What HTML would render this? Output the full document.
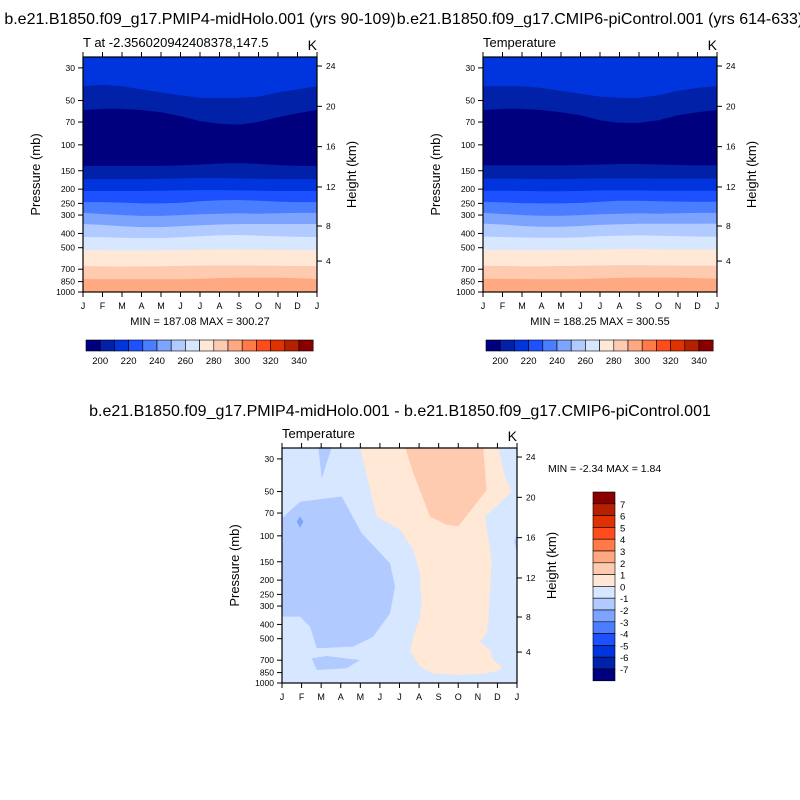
<!DOCTYPE html>
<html><head><meta charset="utf-8">
<style>
body{margin:0;background:#fff;}
svg{display:block;font-family:"Liberation Sans",sans-serif;}
</style></head>
<body>
<svg id="fig" width="800" height="800" viewBox="0 0 800 800" xmlns="http://www.w3.org/2000/svg">
<rect width="800" height="800" fill="#fff"/>
<text x="200" y="24" font-size="16" text-anchor="middle">b.e21.B1850.f09_g17.PMIP4-midHolo.001 (yrs 90-109)</text>
<text x="600" y="24" font-size="16" text-anchor="middle">b.e21.B1850.f09_g17.CMIP6-piControl.001 (yrs 614-633)</text>
<text x="400" y="416" font-size="16" text-anchor="middle">b.e21.B1850.f09_g17.PMIP4-midHolo.001 - b.e21.B1850.f09_g17.CMIP6-piControl.001</text>
</svg>
<script>
const months = ["J","F","M","A","M","J","J","A","S","O","N","D","J"];
const pressureTicks = [30,50,70,100,150,200,250,300,400,500,700,850,1000];
const heightTicks = [4,8,12,16,20,24];
const palette = ["#00007f","#0021a8","#0035de","#1d50ff","#4a7dff","#7ca4ff","#b1caff","#d6e7ff","#ffe8d6","#ffcbb0","#ffa983","#ff7a48","#ff4c1c","#e03200","#b62000","#8a0000"];
const absLevels = [200,220,240,260,280,300,320,340];
const anomLevels = [7,6,5,4,3,2,1,0,-1,-2,-3,-4,-5,-6,-7];

// panel 1 (midHolo) band boundaries: pressure (mb) at each month
const mhBounds = [
 [40,39,40,42,44,46,48,48,48,47,44,42,40],
 [58,57,57,58,60,64,69,72,73,70,65,61,58],
 [139,139,139,139,139,138,136,134,133,135,137,139,139],
 [171,171,171,171,170,169,168,168,169,170,171,171,171],
 [206,206,206,206,205,204,203,203,204,205,206,206,206],
 [245,245,247,250,250,248,242,238,237,240,243,245,245],
 [290,295,300,304,304,300,296,294,292,294,292,290,290],
 [345,350,358,362,362,358,352,348,345,345,345,345,345],
 [423,425,428,430,430,425,418,412,410,414,418,422,423],
 [518,520,522,522,520,518,515,514,514,515,516,518,518],
 [666,670,672,670,668,665,662,660,660,662,664,666,666],
 [816,818,818,820,820,818,812,805,800,800,800,805,816]];
// panel 2 (piControl)
const piBounds = [
 [40,40,40,41,43,45,47,48,48,46,43,41,40],
 [58,57,57,58,60,63,68,71,71,68,63,60,58],
 [138,138,138,138,138,137,136,135,135,136,137,138,138],
 [170,170,170,171,171,170,169,169,169,170,170,170,170],
 [205,205,206,207,207,206,204,204,204,205,205,205,205],
 [244,246,249,250,250,248,244,240,240,242,243,244,244],
 [290,295,300,303,303,300,296,294,292,294,292,290,290],
 [343,348,356,360,360,356,350,346,344,344,344,344,343],
 [420,423,426,428,428,424,418,414,412,414,417,420,420],
 [515,518,520,520,518,517,514,513,513,514,515,515,515],
 [662,666,668,668,666,664,660,658,658,660,662,662,662],
 [812,815,816,818,818,816,810,802,798,798,800,804,812]];
const bandColors = [1,0,1,2,3,4,5,6,7,8,9,10];

// difference panel regions: [month index, pressure mb]
const creamRegion = [[3.98,25],[4.84,74],[6.03,91],[6.71,125],[7.05,180],[7.13,303],[7.05,354],[6.71,484],[6.54,612],[7.05,775],[7.73,860],[9.09,882],[10.45,860],[11.13,816],[11.22,775],[10.79,698],[10.62,597],[10.11,524],[10.45,460],[10.54,373],[10.71,146],[10.37,74],[10.96,63],[11.73,50],[11.39,40],[11.05,25]];
const peachRegion = [[6.28,25],[6.71,37.6],[7.56,74],[8.41,84],[9.01,86],[10.45,49],[10.28,25]];
const blueRegion = [[0,76],[0.92,58.6],[3.05,54],[4.07,96],[5.52,154],[5.77,221],[5.52,336],[4.66,484],[3.64,566],[1.77,581],[1.43,414],[0.92,354],[0,354]];
const blueTopPatch = [[1.85,25],[2.54,25],[2.03,40.6]];
const blueBottomPatch = [[1.52,680],[2.28,655],[3.98,698],[3.30,795],[1.77,816]];
const blueDarkSpot = [[0.75,80],[0.92,74],[1.1,80],[0.92,88]];
const blueRightPatch = [[12,95],[11.85,110],[12,130]];

const NS = "http://www.w3.org/2000/svg";
const svg = document.getElementById("fig");
function el(tag, attrs, parent){const e=document.createElementNS(NS,tag);for(const k in attrs)e.setAttribute(k,attrs[k]);(parent||svg).appendChild(e);return e;}

const PTOP = 25.3, PBOT = 1000;
function makeScales(ox, oy, w, h){
  const xs = m => ox + m * w / 12;
  const ys = p => oy + h * (Math.log(p/PTOP) / Math.log(PBOT/PTOP));
  return {xs, ys};
}
function zToP(z){ if(z<=11) return 1013.25*Math.pow(1-0.0065*z*1000/288.15,5.2559); return 226.32*Math.exp(-(z-11)/6.3416); }

function axes(g, ox, oy, w, h, sc, sub, minmax){
  const ax = el("g",{},g);
  
  
  const fr = el("rect",{x:ox,y:oy,width:w,height:h,fill:"none",stroke:"#000","stroke-width":1.2},ax);
  
  
  months.forEach((m,i)=>{
    const x = sc.xs(i);
    el("line",{x1:x,y1:oy,x2:x,y2:oy-5,stroke:"#000"},ax);
    el("line",{x1:x,y1:oy+h,x2:x,y2:oy+h+5,stroke:"#000"},ax);
    const t = el("text",{x:x,y:oy+h+17,"font-size":9,"text-anchor":"middle"},ax);
    t.textContent = m;
    
    
  });
  pressureTicks.forEach(p=>{
    const y = sc.ys(p);
    el("line",{x1:ox,y1:y,x2:ox-5,y2:y,stroke:"#000"},ax);
    const t = el("text",{x:ox-8,y:y+3,"font-size":8.5,"text-anchor":"end"},ax);
    t.textContent = p;
    
    
  });
  heightTicks.forEach(z=>{
    const y = sc.ys(zToP(z));
    el("line",{x1:ox+w,y1:y,x2:ox+w+5,y2:y,stroke:"#000"},ax);
    const t = el("text",{x:ox+w+9,y:y+3,"font-size":8.5},ax);
    t.textContent = z;
    
    
  });
  const yl = el("text",{x:0,y:0,"font-size":13,"text-anchor":"middle",transform:`translate(${ox-43},${oy+h/2}) rotate(-90)`},ax);
  yl.textContent="Pressure (mb)";
  
  
  const yr = el("text",{x:0,y:0,"font-size":13,"text-anchor":"middle",transform:`translate(${ox+w+39},${oy+h/2}) rotate(-90)`},ax);
  yr.textContent="Height (km)";
  
  
  const st = el("text",{x:ox,y:oy-10,"font-size":13},ax);
  st.textContent = sub;
  
  
  const k = el("text",{x:ox+w,y:oy-7,"font-size":14,"text-anchor":"end"},ax);
  k.textContent = "K";
  
  
  if(minmax){
    const mm = el("text",{x:ox+w/2,y:oy+h+33,"font-size":11,"text-anchor":"middle"},ax);
    mm.textContent = minmax;
    
    
  }
}

function contourPanel(name, ox, oy, bounds, sub, minmax){
  const w=234,h=235;
  const g = el("g",{});
  
  
  const sc = makeScales(ox,oy,w,h);
  const bg = el("rect",{x:ox,y:oy,width:w,height:h,fill:palette[2]},g);
  
  
  bounds.forEach((b,i)=>{
    let d = `M${ox},${oy+h}`;
    b.forEach((p,m)=>{ d += ` L${sc.xs(m).toFixed(1)},${sc.ys(p).toFixed(1)}`; });
    d += ` L${ox+w},${oy+h} Z`;
    const pth = el("path",{d:d,fill:palette[bandColors[i]]},g);
    
    
  });
  axes(g,ox,oy,w,h,sc,sub,minmax);
}

function hColorbar(name, ox, oy){
  const g = el("g",{});
  
  
  const bw = 14.2;
  palette.forEach((c,i)=>{
    const r = el("rect",{x:ox+i*bw,y:oy,width:bw,height:11,fill:c,stroke:"#000","stroke-width":0.6},g);
    
    
  });
  absLevels.forEach((v,j)=>{
    const t = el("text",{x:ox+(1+2*j)*bw,y:oy+24,"font-size":9.5,"text-anchor":"middle"},g);
    t.textContent = v;
    
    
  });
}

contourPanel("midholo-panel",83,57,mhBounds,"T at -2.356020942408378,147.5","MIN = 187.08 MAX = 300.27");
contourPanel("picontrol-panel",483,57,piBounds,"Temperature","MIN = 188.25 MAX = 300.55");
hColorbar("midholo-colorbar",86,340);
hColorbar("picontrol-colorbar",486,340);

// difference panel
(function(){
  const ox=282, oy=448, w=235, h=235;
  const g = el("g",{});
  
  
  const sc = makeScales(ox,oy,w,h);
  const bg = el("rect",{x:ox,y:oy,width:w,height:h,fill:palette[7]},g);
  
  
  function poly(pts,col,nm){
    const d = "M" + pts.map(q=>sc.xs(q[0]).toFixed(1)+","+sc.ys(q[1]).toFixed(1)).join(" L") + " Z";
    const p = el("path",{d:d,fill:col},g);
    
    
  }
  poly(creamRegion,palette[8],"anomaly-0-to-1");
  poly(peachRegion,palette[9],"anomaly-1-to-2");
  poly(blueRegion,palette[6],"anomaly-minus2-to-minus1");
  poly(blueTopPatch,palette[6],"anomaly-minus2-patch-top");
  poly(blueBottomPatch,palette[6],"anomaly-minus2-patch-bottom");
  poly(blueRightPatch,palette[6],"anomaly-minus2-patch-right");
  poly(blueDarkSpot,palette[5],"anomaly-minus3-spot");
  axes(g,ox,oy,w,h,sc,"Temperature",null);
  const mm = el("text",{x:548,y:472,"font-size":10.5},g);
  mm.textContent = "MIN =  -2.34 MAX =   1.84";
  
  
  // vertical colorbar
  const cx=593, cy=492, cw=22, bh=11.8;
  palette.slice().reverse().forEach((c,i)=>{
    const r = el("rect",{x:cx,y:cy+i*bh,width:cw,height:bh,fill:c,stroke:"#000","stroke-width":0.6},g);
    
    
  });
  anomLevels.forEach((v,j)=>{
    const t = el("text",{x:cx+cw+5,y:cy+(j+1)*bh+4,"font-size":9.5},g);
    t.textContent = v;
    
    
  });
})();
</script>
</body></html>
